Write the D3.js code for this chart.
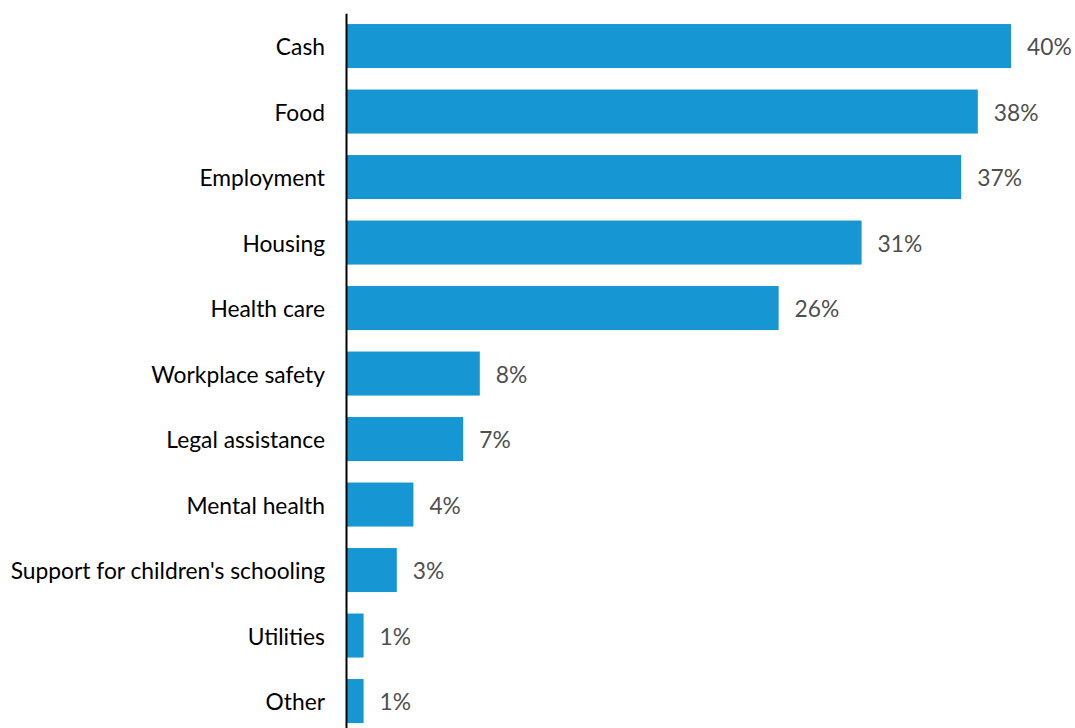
<!DOCTYPE html>
<html>
<head>
<meta charset="utf-8">
<script src="https://cdn.jsdelivr.net/npm/d3@7"></script>
<style>
  html, body { margin: 0; padding: 0; background: #fff; }
  svg text { font-family: Lato, "Open Sans", sans-serif; font-weight: 400; }
</style>
</head>
<body>
<svg id="chart" width="1075" height="728"></svg>
<script>
// Share of respondents reporting each type of need
const categories = [
  "Cash", "Food", "Employment", "Housing", "Health care",
  "Workplace safety", "Legal assistance", "Mental health",
  "Support for children's schooling", "Utilities", "Other"
];
const values = [40, 38, 37, 31, 26, 8, 7, 4, 3, 1, 1];

const svg = d3.select("#chart");
const x0 = 347;
const fontSize = 22.8;

const x = d3.scaleLinear()
  .domain([0, 40])
  .range([x0, 1011]);

const y = d3.scaleBand()
  .domain(categories)
  .range([13.3, 13.3 + 11 * 65.5])
  .paddingInner(0.328)
  .paddingOuter(0.164);

const rows = categories.map((c, i) => ({ c, v: values[i] }));

// Bars
svg.append("g")
  .selectAll("rect")
  .data(rows)
  .join("rect")
  .attr("x", x(0))
  .attr("y", d => y(d.c))
  .attr("width", d => x(d.v) - x(0))
  .attr("height", y.bandwidth())
  .attr("fill", "#1696d2");

// Value labels
svg.append("g")
  .selectAll("text")
  .data(rows)
  .join("text")
  .attr("x", d => x(d.v) + 16)
  .attr("y", d => y(d.c) + y.bandwidth() / 2)
  .attr("dy", "0.4em")
  .attr("font-size", fontSize)
  .attr("fill", "#4f4f4f")
  .text(d => d.v + "%");

// Category axis
const axis = svg.append("g")
  .attr("transform", `translate(${x0 - 1},0)`)
  .call(d3.axisLeft(y).tickSize(0).tickPadding(21));
axis.select(".domain")
  .attr("stroke", "#000")
  .attr("stroke-width", 2);
axis.selectAll(".tick text")
  .attr("font-size", fontSize)
  .attr("fill", "#000")
  .attr("dy", "0.4em");
</script>
</body>
</html>
